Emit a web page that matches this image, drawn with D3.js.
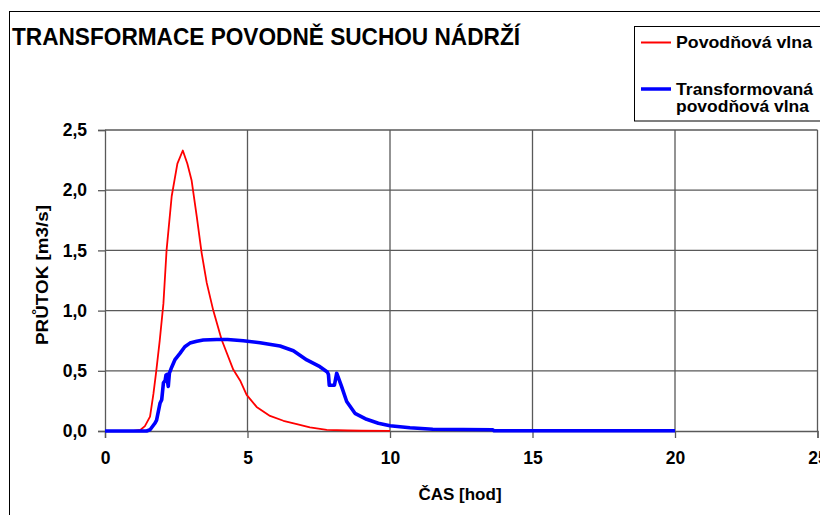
<!DOCTYPE html>
<html>
<head>
<meta charset="utf-8">
<script src="https://cdn.jsdelivr.net/npm/d3@7"></script>
<style>
  html, body { margin: 0; padding: 0; background: #fff; }
  svg { display: block; }
  text { font-family: "Liberation Sans", Arial, sans-serif; font-weight: bold; fill: #000; }
</style>
</head>
<body>
<svg id="chart" width="820" height="515"></svg>
<script>
// ---- Data ----
const chartTitle = "TRANSFORMACE POVODNĚ SUCHOU NÁDRŽÍ";
const xAxisTitle = "ČAS [hod]";
const yAxisTitle = "PRŮTOK [m3/s]";
const seriesNames = ["Povodňová vlna", ["Transformovaná", "povodňová vlna"]];
const xTicks = [0, 5, 10, 15, 20, 25];
const yTicks = [0, 0.5, 1.0, 1.5, 2.0, 2.5];

const inflowTime = [0, 0.5, 1.0, 1.25, 1.4, 1.58, 1.70, 1.79, 1.92, 2.05, 2.16, 2.34, 2.54, 2.73, 2.89, 3.04, 3.22, 3.39, 3.57, 3.80, 4.09, 4.50, 4.74, 4.97, 5.32, 5.79, 6.26, 6.73, 7.19, 7.78, 8.5, 9.0, 10.0];
const inflowQ    = [0, 0, 0, 0.01, 0.04, 0.12, 0.31, 0.48, 0.75, 1.06, 1.50, 1.95, 2.22, 2.33, 2.22, 2.08, 1.78, 1.48, 1.23, 1.00, 0.76, 0.51, 0.42, 0.30, 0.20, 0.125, 0.085, 0.058, 0.03, 0.01, 0.004, 0.002, 0.001];

const outflowTime = [0, 1.46, 1.58, 1.75, 1.81, 1.93, 1.99, 2.05, 2.11, 2.14, 2.18, 2.20, 2.22, 2.26, 2.34, 2.45, 2.63, 2.80, 2.98, 3.22, 3.45, 3.92, 4.30, 4.85, 5.44, 6.14, 6.61, 7.08, 7.54, 7.80, 7.84, 7.87, 8.05, 8.13, 8.30, 8.48, 8.77, 9.18, 9.59, 10.0, 10.7, 11.5, 13.6, 13.65, 20];
const outflowQ    = [0, 0, 0.01, 0.064, 0.09, 0.23, 0.26, 0.40, 0.42, 0.465, 0.47, 0.40, 0.37, 0.48, 0.53, 0.59, 0.645, 0.70, 0.73, 0.745, 0.756, 0.76, 0.76, 0.75, 0.733, 0.706, 0.667, 0.59, 0.534, 0.49, 0.47, 0.38, 0.38, 0.48, 0.37, 0.245, 0.147, 0.097, 0.064, 0.044, 0.027, 0.014, 0.010, 0.002, 0.002];

// ---- Layout ----
const svg = d3.select("#chart");
const x = d3.scaleLinear().domain([0, 25]).range([105, 817.5]);
const y = d3.scaleLinear().domain([0, 2.5]).range([431, 130]);
const czech = d3.formatLocale({decimal: ",", thousands: " ", grouping: [3], currency: ["", " Kč"]});
const fmtY = czech.format(".1f");
const gridColor = "#595959";

// outer chart frame
svg.append("rect").attr("x", 9.5).attr("y", 11.5).attr("width", 830).attr("height", 530)
  .attr("fill", "#fff").attr("stroke", "#000").attr("stroke-width", 1);

// title
svg.append("text").attr("x", 12).attr("y", 45).attr("font-size", 23)
  .attr("textLength", 508).attr("lengthAdjust", "spacingAndGlyphs").text(chartTitle);

// gridlines
svg.append("g").selectAll("line").data(xTicks.filter(d => d > 0)).join("line")
  .attr("x1", d => x(d)).attr("x2", d => x(d)).attr("y1", y(2.5)).attr("y2", y(0))
  .attr("stroke", gridColor).attr("stroke-width", 1.3);
svg.append("g").selectAll("line").data(yTicks.filter(d => d > 0)).join("line")
  .attr("x1", x(0)).attr("x2", x(25)).attr("y1", d => y(d)).attr("y2", d => y(d))
  .attr("stroke", gridColor).attr("stroke-width", 1.3);

// axes
const xAxis = svg.append("g").attr("transform", `translate(0,${y(0)})`)
  .call(d3.axisBottom(x).tickValues(xTicks).tickSize(7).tickPadding(14).tickFormat(d3.format("d")));
const yAxis = svg.append("g").attr("transform", `translate(${x(0)},0)`)
  .call(d3.axisLeft(y).tickValues(yTicks).tickSize(7).tickPadding(11).tickFormat(fmtY));
[xAxis, yAxis].forEach(g => {
  g.select(".domain").attr("stroke", gridColor).attr("stroke-width", 1.3);
  g.selectAll(".tick line").attr("stroke", gridColor).attr("stroke-width", 1.3);
  g.selectAll(".tick text").attr("font-family", "Liberation Sans, Arial, sans-serif")
    .attr("font-weight", "bold").attr("font-size", 17.5).attr("fill", "#000");
});

// axis titles
svg.append("text").attr("x", 460).attr("y", 500).attr("text-anchor", "middle")
  .attr("font-size", 17).text(xAxisTitle);
svg.append("text").attr("transform", "translate(48,275) rotate(-90)").attr("text-anchor", "middle")
  .attr("font-size", 17).attr("textLength", 140).attr("lengthAdjust", "spacingAndGlyphs").text(yAxisTitle);

// series
const line = d3.line().x(d => x(d[0])).y(d => y(d[1]));
const inflow = inflowTime.map((t, i) => [t, inflowQ[i]]);
const outflow = outflowTime.map((t, i) => [t, outflowQ[i]]);
svg.append("path").datum(inflow).attr("d", line).attr("fill", "none")
  .attr("stroke", "#ff0000").attr("stroke-width", 1.8).attr("stroke-linejoin", "round");
svg.append("path").datum(outflow).attr("d", line).attr("fill", "none")
  .attr("stroke", "#0000ff").attr("stroke-width", 3.6).attr("stroke-linejoin", "round");

// legend
const lg = svg.append("g");
lg.append("rect").attr("x", 634.5).attr("y", 26.5).attr("width", 200).attr("height", 94.5)
  .attr("fill", "#fff").attr("stroke", "#000").attr("stroke-width", 1);
lg.append("line").attr("x1", 641).attr("x2", 671).attr("y1", 42.5).attr("y2", 42.5)
  .attr("stroke", "#ff0000").attr("stroke-width", 2);
lg.append("text").attr("x", 676).attr("y", 47.5).attr("font-size", 16.5)
  .attr("textLength", 136).attr("lengthAdjust", "spacingAndGlyphs").text(seriesNames[0]);
lg.append("line").attr("x1", 641).attr("x2", 671).attr("y1", 89).attr("y2", 89)
  .attr("stroke", "#0000ff").attr("stroke-width", 3.5);
lg.append("text").attr("x", 676).attr("y", 94.5).attr("font-size", 16.5)
  .attr("textLength", 137).attr("lengthAdjust", "spacingAndGlyphs").text(seriesNames[1][0]);
lg.append("text").attr("x", 676).attr("y", 112).attr("font-size", 16.5)
  .attr("textLength", 133).attr("lengthAdjust", "spacingAndGlyphs").text(seriesNames[1][1]);
</script>
</body>
</html>
